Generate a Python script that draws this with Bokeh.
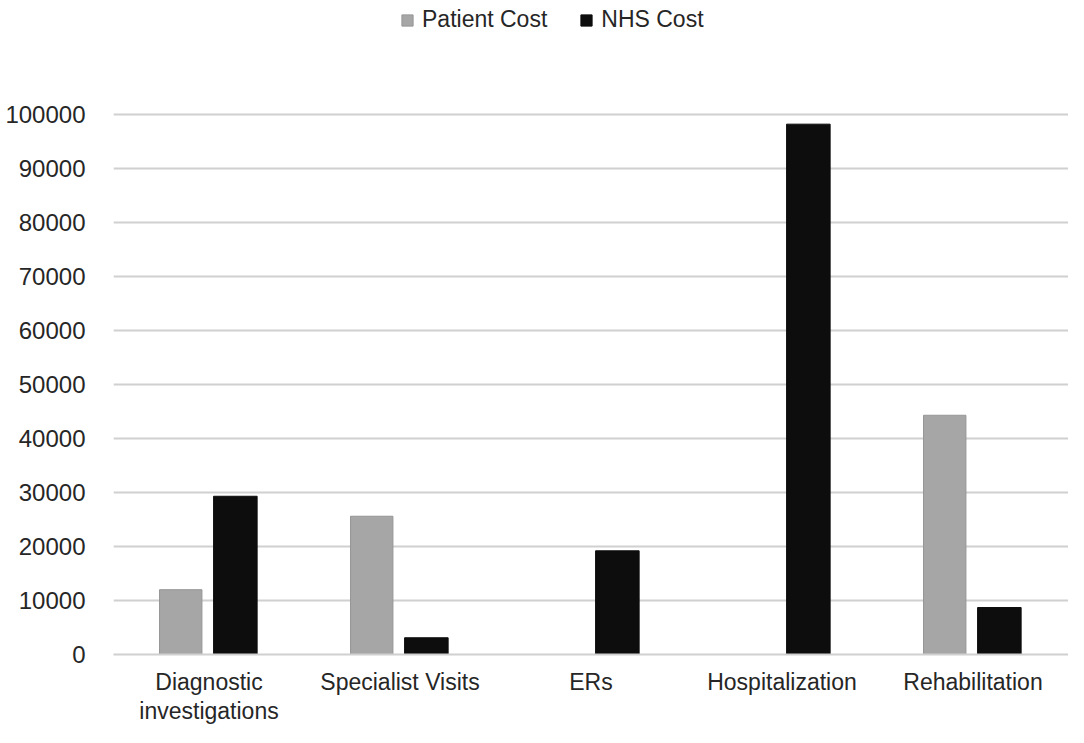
from bokeh.plotting import figure
from bokeh.models import (FactorRange, Range1d, ColumnDataSource, FixedTicker,
                          NumeralTickFormatter, Legend, LegendItem)
from bokeh.transform import dodge
from bokeh.embed import file_html
from bokeh.resources import INLINE

categories = ["Diagnostic\ninvestigations", "Specialist Visits", "ERs", "Hospitalization", "Rehabilitation"]
patient_cost = [12000, 25600, 0, 0, 44300]
nhs_cost = [29300, 3100, 19200, 98200, 8700]
series_names = ["Patient Cost", "NHS Cost"]
y_ticks = [0, 10000, 20000, 30000, 40000, 50000, 60000, 70000, 80000, 90000, 100000]

src = ColumnDataSource(data=dict(cat=categories, patient=patient_cost, nhs=nhs_cost))

FONT = "Liberation Sans"

# frame spans the full height above the axis; the value axis tops out at 100000,
# with the extra room above it holding the legend
p = figure(width=1068, height=727, x_range=FactorRange(*categories, range_padding=0),
           y_range=Range1d(0, 121100), output_backend="svg", toolbar_location=None,
           min_border_left=113, min_border_right=0, min_border_top=0, min_border_bottom=71)
p.x_range.group_padding = 0
p.x_range.factor_padding = 0

r1 = p.vbar(x=dodge("cat", -0.148, range=p.x_range), top="patient", width=0.222, source=src,
            fill_color="#a6a6a6", line_color="#969696", line_width=1)
r2 = p.vbar(x=dodge("cat", 0.138, range=p.x_range), top="nhs", width=0.228, source=src,
            fill_color="#0d0d0d", line_color="#0d0d0d", line_width=1)

p.yaxis.ticker = FixedTicker(ticks=y_ticks)
p.yaxis.formatter = NumeralTickFormatter(format="0")
p.yaxis.axis_line_color = None
p.yaxis.major_tick_line_color = None
p.yaxis.minor_tick_line_color = None
p.yaxis.major_label_text_font = FONT
p.yaxis.major_label_text_font_size = "24px"
p.yaxis.major_label_text_color = "#262626"
p.yaxis.major_label_standoff = 22

p.xaxis.axis_line_color = "#d0d0d0"
p.xaxis.axis_line_width = 2
p.xaxis.major_tick_line_color = None
p.xaxis.minor_tick_line_color = None
p.xaxis.major_label_text_font = FONT
p.xaxis.major_label_text_font_size = "23px"
p.xaxis.major_label_text_color = "#262626"
p.xaxis.major_label_text_line_height = 1.15
p.xaxis.major_label_standoff = 8

p.xgrid.grid_line_color = None
p.ygrid.grid_line_color = "#d0d0d0"
p.ygrid.grid_line_width = 2
p.outline_line_color = None
p.background_fill_color = "white"
p.border_fill_color = "white"

legend = Legend(items=[LegendItem(label=series_names[0], renderers=[r1]),
                       LegendItem(label=series_names[1], renderers=[r2])],
                location=(287, 621), orientation="horizontal",
                glyph_width=14, glyph_height=14, label_standoff=8, spacing=32,
                padding=0, margin=0, border_line_color=None, background_fill_alpha=0,
                label_text_font=FONT, label_text_font_size="23px", label_text_color="#262626")
p.add_layout(legend)

open("out.html", "w").write(file_html(p, INLINE))
